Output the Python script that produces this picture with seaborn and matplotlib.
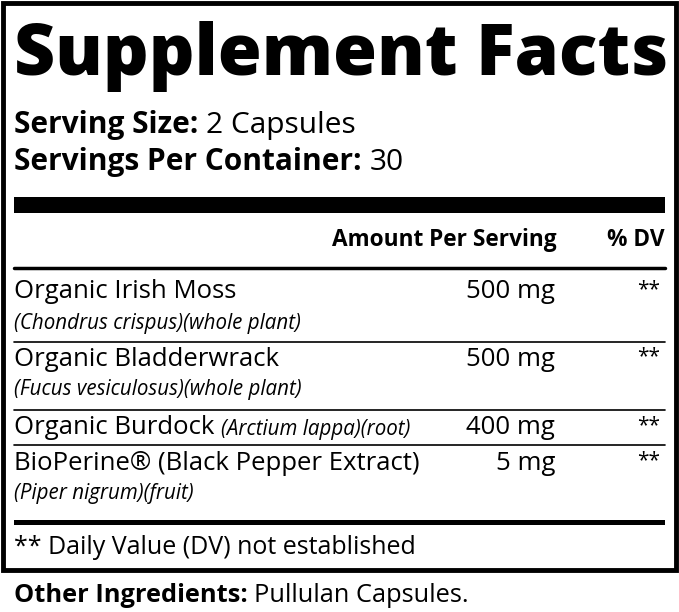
import matplotlib
matplotlib.use("Agg")
import matplotlib.pyplot as plt
import seaborn as sns
from matplotlib.patches import Rectangle

sns.set_theme(style="white")
plt.rcParams['font.family'] = ['Open Sans', 'DejaVu Sans']
plt.rcParams['text.color'] = 'black'

title = "Supplement Facts"
serving_size = "2 Capsules"
servings_per = "30"
names = ["Organic Irish Moss", "Organic Bladderwrack", "Organic Burdock ", "BioPerine® (Black Pepper Extract)"]
latin = ["(Chondrus crispus)(whole plant)", "(Fucus vesiculosus)(whole plant)", "(Arctium lappa)(root)", "(Piper nigrum)(fruit)"]
latin_inline = [False, False, True, False]
amounts = ["500 mg", "500 mg", "400 mg", "5 mg"]
dv = ["**", "**", "**", "**"]
footnote = "** Daily Value (DV) not established"
other_label = "Other Ingredients: "
other_value = "Pullulan Capsules."

W, H = 679, 612
fig = plt.figure(figsize=(W/100, H/100), dpi=100)
ax = fig.add_axes([0, 0, 1, 1])
ax.set_xlim(0, W); ax.set_ylim(H, 0); ax.axis("off")
fig.canvas.draw()
r = fig.canvas.get_renderer()
inv = ax.transData.inverted()

def width(t):
    bb = t.get_window_extent(renderer=r)
    p0 = inv.transform((bb.x0, bb.y0)); p1 = inv.transform((bb.x1, bb.y1))
    return p1[0] - p0[0]

def seq(x, y, parts, size):
    for txt, w, st in parts:
        t = ax.text(x, y, txt, fontsize=size, fontweight=w, fontstyle=st, va="center", ha="left", color="black")
        x += width(t)

ax.add_patch(Rectangle((3, 3), 673, 567, fill=False, lw=3.5, ec="black"))
t = ax.text(14, 57, title, fontsize=60, fontweight="heavy", va="center", ha="left", color="black")
t.set_fontsize(60 * 654 / width(t))

seq(14, 125, [("Serving Size: ", "bold", "normal"), (serving_size, "normal", "normal")], 21.5)
seq(14, 162, [("Servings Per Container: ", "bold", "normal"), (servings_per, "normal", "normal")], 21.5)

ax.add_patch(Rectangle((14, 197), 651, 16, color="black", lw=0))
ax.text(557, 240, "Amount Per Serving", fontsize=16.3, fontweight="bold", va="center", ha="right", color="black")
ax.text(665, 240, "% DV", fontsize=16.3, fontweight="bold", va="center", ha="right", color="black")
ax.plot([14, 665], [268, 268], color="black", lw=2.5)

row_y = [292, 359, 428, 463]
sep_y = [342, 410, 445]
for i in range(4):
    y = row_y[i]
    if latin_inline[i]:
        seq(14, y, [(names[i], "normal", "normal")], 18.5)
        t = ax.text(14, y, names[i], fontsize=18.5, alpha=0)
        ax.text(14 + width(t), y + 1, latin[i], fontsize=14.8, fontstyle="italic", va="center", ha="left", color="black")
    else:
        ax.text(14, y, names[i], fontsize=18.5, va="center", ha="left", color="black")
        ax.text(14, y + 31, latin[i], fontsize=14.8, fontstyle="italic", va="center", ha="left", color="black")
    ax.text(555, y, amounts[i], fontsize=18.5, va="center", ha="right", color="black")
    ax.text(660, y - 2, dv[i], fontsize=15, va="center", ha="right", color="black")
for y in sep_y:
    ax.plot([14, 665], [y, y], color="black", lw=1.2)

ax.add_patch(Rectangle((14, 520), 651, 5, color="black", lw=0))
ax.text(14, 547, footnote, fontsize=18, va="center", ha="left", color="black")
seq(14, 595, [(other_label, "bold", "normal"), (other_value, "normal", "normal")], 18.3)

fig.savefig("out.png", dpi=100)
